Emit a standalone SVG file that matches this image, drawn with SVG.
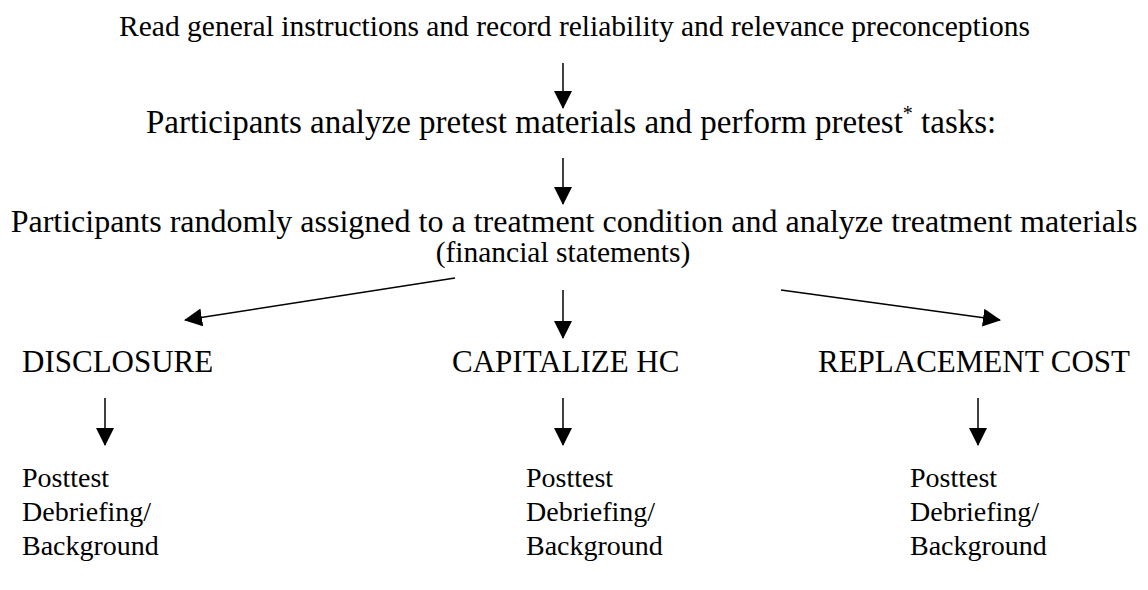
<svg xmlns="http://www.w3.org/2000/svg" width="1148" height="590" viewBox="0 0 1148 590">
<defs>
<style>
text{font-family:"Liberation Serif","Times New Roman",serif;font-size:30px;fill:#000}
.c{text-anchor:middle}
.lab{font-size:31px}
.pt{font-size:28px}
.ln{stroke:#000;stroke-width:1.5;fill:none;marker-end:url(#ah)}
</style>
<marker id="ah" viewBox="0 0 18 18" markerWidth="18" markerHeight="18" refX="17" refY="9" orient="auto" markerUnits="userSpaceOnUse">
<path d="M0,0 L18,9 L0,18 Z" fill="#000"/>
</marker>
</defs>
<rect width="1148" height="590" fill="#fff"/>
<g id="n-read"><text class="c" x="574.5" y="36" style="font-size:29.5px">Read general instructions and record reliability and relevance preconceptions</text></g>
<g id="n-pretest"><text x="146" y="133" style="font-size:33px">Participants analyze pretest materials and perform pretest<tspan dy="-13" font-size="20">*</tspan><tspan dy="13"> tasks:</tspan></text></g>
<g id="n-assign"><text class="c" x="574" y="232" style="font-size:32px">Participants randomly assigned to a treatment condition and analyze treatment materials</text><text class="c" x="563" y="262" style="font-size:29.5px">(financial statements)</text></g>
<g id="n-disc"><text class="lab" x="22" y="372">DISCLOSURE</text></g>
<g id="n-cap"><text class="lab" x="452" y="372">CAPITALIZE HC</text></g>
<g id="n-rep"><text class="lab" x="818" y="372">REPLACEMENT COST</text></g>
<g id="n-post1"><text class="pt" x="22" y="487">Posttest</text><text class="pt" x="22" y="521">Debriefing/</text><text class="pt" x="22" y="555">Background</text></g>
<g id="n-post2"><text class="pt" x="526" y="487">Posttest</text><text class="pt" x="526" y="521">Debriefing/</text><text class="pt" x="526" y="555">Background</text></g>
<g id="n-post3"><text class="pt" x="910" y="487">Posttest</text><text class="pt" x="910" y="521">Debriefing/</text><text class="pt" x="910" y="555">Background</text></g>
<g id="connectors">
<line class="ln" x1="563" y1="63" x2="563" y2="108"/>
<line class="ln" x1="563" y1="158" x2="563" y2="204"/>
<line class="ln" x1="455" y1="278" x2="185" y2="320"/>
<line class="ln" x1="563" y1="290" x2="563" y2="338"/>
<line class="ln" x1="781" y1="290" x2="1000" y2="320"/>
<line class="ln" x1="105" y1="398" x2="105" y2="445"/>
<line class="ln" x1="563" y1="398" x2="563" y2="445"/>
<line class="ln" x1="978" y1="398" x2="978" y2="445"/>
</g>
</svg>
